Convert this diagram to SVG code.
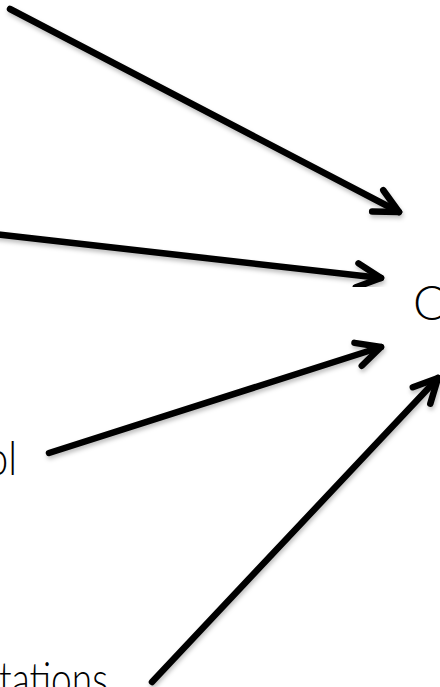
<svg xmlns="http://www.w3.org/2000/svg" width="440" height="687" viewBox="0 0 440 687">
  <style>
    .lbl { font-family: "Lato", "Open Sans", "Liberation Sans", sans-serif; font-weight: 300; font-size: 48px; fill: #000; }
    .edge { stroke: #000; stroke-width: 6.5; stroke-linecap: round; fill: none; filter: url(#shadow); }
  </style>
  <defs>
    <filter id="shadow" x="-20%" y="-20%" width="140%" height="140%">
      <feDropShadow dx="1" dy="3" stdDeviation="2" flood-color="#000" flood-opacity="0.25"/>
    </filter>
    <marker id="head" markerUnits="userSpaceOnUse" orient="auto" markerWidth="40" markerHeight="40" refX="0" refY="0" viewBox="-30 -20 40 40" overflow="visible">
      <path d="M-24,-12 L0,0 L-24,12" fill="none" stroke="#000" stroke-width="6.5" stroke-linecap="round" stroke-linejoin="round"/>
    </marker>
  </defs>
  <rect width="440" height="687" fill="#fff"/>

  <g id="edges">
    <line class="edge" x1="10" y1="9" x2="399" y2="212" marker-end="url(#head)"/>
    <line class="edge" x1="-6" y1="234" x2="381" y2="278" marker-end="url(#head)"/>
    <line class="edge" x1="49" y1="453" x2="381" y2="347" marker-end="url(#head)"/>
    <line class="edge" x1="152" y1="682" x2="438" y2="378" marker-end="url(#head)"/>
  </g>

  <g id="node-outcome">
    <text class="lbl" x="413" y="320">O</text>
  </g>
  <g id="node-control">
    <text class="lbl" x="-14" y="475" textLength="31" lengthAdjust="spacingAndGlyphs">ol</text>
  </g>
  <g id="node-expectations">
    <text class="lbl" x="-1" y="696" textLength="109" lengthAdjust="spacingAndGlyphs">tations</text>
  </g>
</svg>
